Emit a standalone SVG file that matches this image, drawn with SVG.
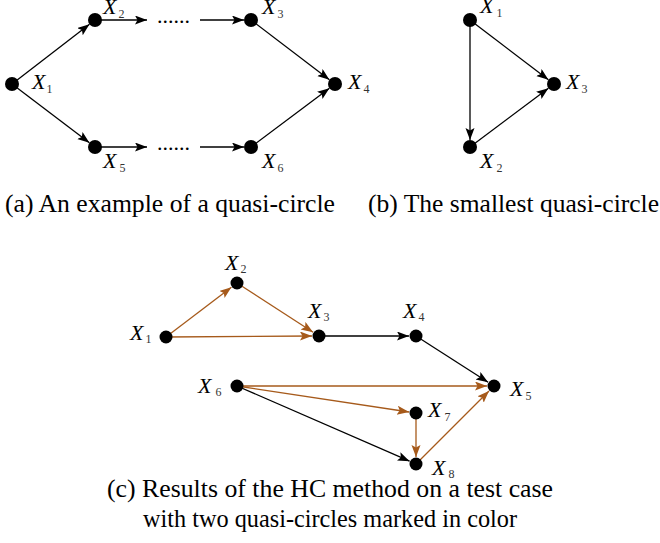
<svg xmlns="http://www.w3.org/2000/svg" width="660" height="543" viewBox="0 0 660 543">
<style>
.bg{fill:#fff}
.node{fill:#000}
.e{stroke:#000;stroke-width:1.3;fill:none;marker-end:url(#ab)}
.o{stroke:#A65A1B;stroke-width:1.3;fill:none;marker-end:url(#ao)}
.plain{stroke:#000;stroke-width:1.3;fill:none}
.lbl{font-family:"Liberation Serif","Times New Roman",serif;font-style:italic;font-size:22px;fill:#000}
.sub{font-family:"Liberation Serif","Times New Roman",serif;font-style:normal;font-size:12px;fill:#333}
.cap{font-family:"Liberation Serif","Times New Roman",serif;font-size:26px;fill:#000}
.dots{font-family:"Liberation Serif","Times New Roman",serif;font-size:22px;fill:#000}
</style>
<defs>
<marker id="ab" markerUnits="userSpaceOnUse" markerWidth="13" markerHeight="10" refX="12" refY="4.5" orient="auto"><path d="M0,0 L12,4.5 L0,9 L2.5,4.5 Z" fill="#000"/></marker>
<marker id="ao" markerUnits="userSpaceOnUse" markerWidth="13" markerHeight="10" refX="12" refY="4.5" orient="auto"><path d="M0,0 L12,4.5 L0,9 L2.5,4.5 Z" fill="#A65A1B"/></marker>
</defs>
<rect class="bg" x="0" y="0" width="660" height="543"/>

<g id="connectors">
<!-- panel a -->
<line class="e" x1="12" y1="84" x2="89.5" y2="24.3"/>
<line class="e" x1="95" y1="20" x2="147" y2="20"/>
<line class="e" x1="200" y1="20" x2="244" y2="20"/>
<line class="e" x1="251" y1="20" x2="329.4" y2="79.8"/>
<line class="e" x1="12" y1="84" x2="89.4" y2="142.8"/>
<line class="e" x1="95" y1="147" x2="147" y2="147"/>
<line class="e" x1="200" y1="147" x2="244" y2="147"/>
<line class="e" x1="251" y1="147" x2="329.4" y2="88.2"/>
<!-- panel b -->
<line class="e" x1="470" y1="20" x2="470" y2="140"/>
<line class="e" x1="470" y1="20" x2="548.4" y2="79.8"/>
<line class="e" x1="470" y1="147" x2="548.4" y2="88.2"/>
<!-- panel c -->
<line class="o" x1="166" y1="337" x2="231.4" y2="287.2"/>
<line class="o" x1="237" y1="283" x2="313.1" y2="332.2"/>
<line class="o" x1="166" y1="337" x2="312" y2="336"/>
<line class="e" x1="319" y1="336" x2="409" y2="336"/>
<line class="e" x1="416" y1="336" x2="488.1" y2="382.2"/>
<line class="o" x1="237" y1="386" x2="487" y2="386"/>
<line class="o" x1="237" y1="386" x2="409.1" y2="412"/>
<line class="e" x1="237" y1="386" x2="409.6" y2="461.2"/>
<line class="o" x1="416" y1="413" x2="416" y2="457"/>
<line class="o" x1="416" y1="464" x2="489" y2="391"/>
</g>

<text class="dots" x="157" y="23">......</text>
<text class="dots" x="157" y="150">......</text>

<!-- panel a nodes -->
<g id="a-X1"><circle class="node" cx="12" cy="84" r="7"/><text class="lbl" x="32" y="89">X<tspan class="sub" dx="1" dy="4">1</tspan></text></g>
<g id="a-X2"><circle class="node" cx="95" cy="20" r="7"/><text class="lbl" x="103" y="14">X<tspan class="sub" dx="2" dy="4">2</tspan></text></g>
<g id="a-X3"><circle class="node" cx="251" cy="20" r="7"/><text class="lbl" x="262" y="14">X<tspan class="sub" dx="2" dy="4">3</tspan></text></g>
<g id="a-X4"><circle class="node" cx="335" cy="84" r="7"/><text class="lbl" x="348" y="89">X<tspan class="sub" dx="2" dy="4">4</tspan></text></g>
<g id="a-X5"><circle class="node" cx="95" cy="147" r="7"/><text class="lbl" x="103" y="168">X<tspan class="sub" dx="3" dy="4">5</tspan></text></g>
<g id="a-X6"><circle class="node" cx="251" cy="147" r="7"/><text class="lbl" x="262" y="168">X<tspan class="sub" dx="2" dy="4">6</tspan></text></g>

<!-- panel b nodes -->
<g id="b-X1"><circle class="node" cx="470" cy="20" r="7"/><text class="lbl" x="480" y="13">X<tspan class="sub" dx="3" dy="4">1</tspan></text></g>
<g id="b-X2"><circle class="node" cx="470" cy="147" r="7"/><text class="lbl" x="480" y="168">X<tspan class="sub" dx="3" dy="4">2</tspan></text></g>
<g id="b-X3"><circle class="node" cx="554" cy="84" r="7"/><text class="lbl" x="566" y="89">X<tspan class="sub" dx="2" dy="4">3</tspan></text></g>

<!-- panel c nodes -->
<g id="c-X1"><circle class="node" cx="166" cy="337" r="6.5"/><text class="lbl" x="130" y="340">X<tspan class="sub" dx="2" dy="3">1</tspan></text></g>
<g id="c-X2"><circle class="node" cx="237" cy="283" r="6.5"/><text class="lbl" x="225" y="270">X<tspan class="sub" dx="2" dy="3">2</tspan></text></g>
<g id="c-X3"><circle class="node" cx="319" cy="336" r="6.5"/><text class="lbl" x="308" y="318">X<tspan class="sub" dx="2" dy="3">3</tspan></text></g>
<g id="c-X4"><circle class="node" cx="416" cy="336" r="6.5"/><text class="lbl" x="403" y="318">X<tspan class="sub" dx="2" dy="3">4</tspan></text></g>
<g id="c-X5"><circle class="node" cx="494" cy="386" r="6.5"/><text class="lbl" x="510" y="396">X<tspan class="sub" dx="2" dy="4">5</tspan></text></g>
<g id="c-X6"><circle class="node" cx="237" cy="386" r="6.5"/><text class="lbl" x="198" y="393">X<tspan class="sub" dx="4" dy="3">6</tspan></text></g>
<g id="c-X7"><circle class="node" cx="416" cy="413" r="6.5"/><text class="lbl" x="428" y="417">X<tspan class="sub" dx="3" dy="4">7</tspan></text></g>
<g id="c-X8"><circle class="node" cx="416" cy="464" r="6.5"/><text class="lbl" x="432" y="475">X<tspan class="sub" dx="3" dy="3">8</tspan></text></g>

<!-- captions -->
<text class="cap" x="5" y="212" textLength="330" lengthAdjust="spacingAndGlyphs">(a) An example of a quasi-circle</text>
<text class="cap" x="368" y="212" textLength="291" lengthAdjust="spacingAndGlyphs">(b) The smallest quasi-circle</text>
<text class="cap" x="107" y="497" textLength="446" lengthAdjust="spacingAndGlyphs">(c) Results of the HC method on a test case</text>
<text class="cap" x="143" y="527" textLength="374" lengthAdjust="spacingAndGlyphs">with two quasi-circles marked in color</text>
</svg>
